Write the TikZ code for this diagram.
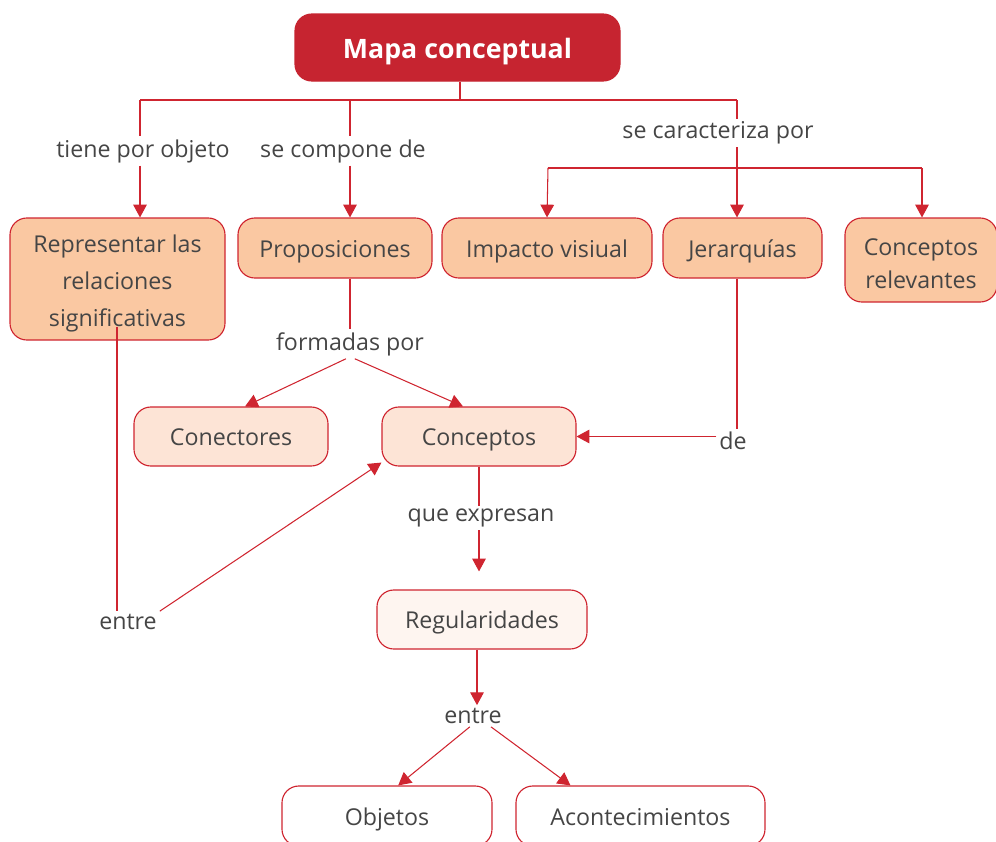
\documentclass[tikz,border=0pt]{standalone}
\usepackage{fontspec}
\setmainfont{Open Sans}
\usetikzlibrary{arrows.meta}

\definecolor{mapred}{HTML}{C62430}
\definecolor{lnred}{HTML}{CF2530}
\definecolor{peach}{HTML}{FAC8A2}
\definecolor{peachlt}{HTML}{FDE4D6}
\definecolor{peachxl}{HTML}{FEF5F0}
\definecolor{txtgray}{HTML}{454545}

\begin{document}
\begin{tikzpicture} [x=0.025cm, y=-0.025cm,
		box/.style={draw=lnred, line width=0.8pt, rounded corners=0.42cm, align=center, text=txtgray, font=\fontsize{16.5}{20}\selectfont},
		onebox/.style={box, text height=14.8pt, text depth=1.3pt},
		boxsize/.style 2 args={minimum width=#1*0.025cm, minimum height=#2*0.025cm, inner sep=0pt},
		lbl/.style={text=txtgray, font=\fontsize{16.5}{20}\selectfont, inner sep=2pt},
		ln/.style={draw=lnred, line width=0.75pt},
		arr/.style={ln, -{Triangle[width=0.34cm, length=0.32cm]}}]
		\useasboundingbox (0,0) rectangle (996,842);
		\clip (0,0) rectangle (996,842);
		
		%title
		\node (mapa) [onebox, boxsize={325}{67}, fill=mapred, draw=mapred, text=white, font=\fontsize{19}{23}\selectfont\bfseries, text height=17pt, text depth=1.5pt] at (457.5,47.5) {Mapa conceptual};
		
		%first row
		\node (repr) [box, boxsize={215}{122}, fill=peach, font=\fontsize{16.5}{26}\selectfont, text height=71pt, text depth=4pt] at (117.5,279) {Representar las\\relaciones\\significativas};
		\node (propos) [onebox, boxsize={194}{60}, fill=peach] at (335,248) {Proposiciones};
		\node (impacto) [onebox, boxsize={210}{60}, fill=peach] at (547,248) {Impacto visiual};
		\node (jerarq) [onebox, boxsize={159}{60}, fill=peach] at (742.5,248) {Jerarquías};
		\node (relev) [box, boxsize={152}{84}, fill=peach, font=\fontsize{16.5}{23}\selectfont, text height=40.4pt, text depth=0.2pt] at (921,260) {Conceptos\\relevantes};
		
		%second row
		\node (conect) [onebox, boxsize={194}{59}, fill=peachlt] at (231,436.5) {Conectores};
		\node (concep) [onebox, boxsize={194}{59}, fill=peachlt] at (479,436.5) {Conceptos};
		\node (regul) [onebox, boxsize={210}{59}, fill=peachxl] at (482,619.5) {Regularidades};
		\node (objetos) [onebox, boxsize={210}{60}, fill=white] at (387,816) {Objetos};
		\node (acont) [onebox, boxsize={249}{60}, fill=white] at (640.5,816) {Acontecimientos};
		
		%link words
		\node (tiene) [lbl] at (143,151) {tiene por objeto};
		\node (compone) [lbl] at (343,151) {se compone de};
		\node (caract) [lbl] at (718,133) {se caracteriza por};
		\node (formadas) [lbl] at (350,344) {formadas por};
		\node (de) [lbl] at (733,441) {de};
		\node (expresan) [lbl] at (481,518) {que expresan};
		\node (entreA) [lbl] at (128,622) {entre};
		\node (entreB) [lbl] at (473,716) {entre};
		
		\coordinate (busM) at (460,100);
		\coordinate (busL) at (140,100);
		\coordinate (busC) at (350,100);
		\coordinate (busR) at (737,100);
		\coordinate (brL) at (548,168);
		\coordinate (brR) at (922,168);
		
		%top connectors
		\draw [ln] (mapa.south -| busM) -- (busM);
		\draw [ln] (busL) -- (busR);
		\draw [ln] (busL) -- (busL |- tiene.north);
		\draw [arr] (busL |- tiene.south) -- (busL |- repr.north);
		\draw [ln] (busC) -- (busC |- compone.north);
		\draw [arr] (busC |- compone.south) -- (busC |- propos.north);
		\draw [ln] (busR) -- (busR |- caract.north);
		\draw [arr] (busR |- caract.south) -- (busR |- jerarq.north);
		\draw [ln] (brL) -- (brR);
		\draw [arr] (brL) -- (impacto.north);
		\draw [arr] (brR) -- (brR |- relev.north);
		
		%middle connectors
		\draw [ln] (formadas.north |- propos.south) -- (formadas.north);
		\draw [arr] ([xshift=-0.1cm]formadas.south) -- ([xshift=0.35cm]conect.north);
		\draw [arr] ([xshift=0.12cm]formadas.south) -- ([xshift=-0.4cm]concep.north);
		\draw [ln] (busR |- jerarq.south) -- (busR |- de.north);
		\draw [arr] (concep.east -| de.west) -- (concep.east);
		\draw [ln] ([yshift=0.35cm]repr.south -| busL) ++(-23,0) coordinate (reprOut) -- (reprOut |- entreA.north);
		\draw [arr] (entreA.north east) -- ([yshift=0.1cm]concep.south west);
		
		%lower connectors
		\draw [ln] (concep.south) -- (concep.south |- expresan.north);
		\draw [arr, shorten >=0.45cm] (concep.south |- expresan.south) -- (concep.south |- regul.north);
		\draw [arr] (regul.south -| busC) ++(127,0) coordinate (regOut) -- (regOut |- entreB.north);
		\draw [arr] ([xshift=-0.08cm]entreB.south) -- ([xshift=0.28cm]objetos.north);
		\draw [arr] ([xshift=0.45cm]entreB.south) -- ([xshift=-1.75cm]acont.north);
	
	\end{tikzpicture}
\end{document}
